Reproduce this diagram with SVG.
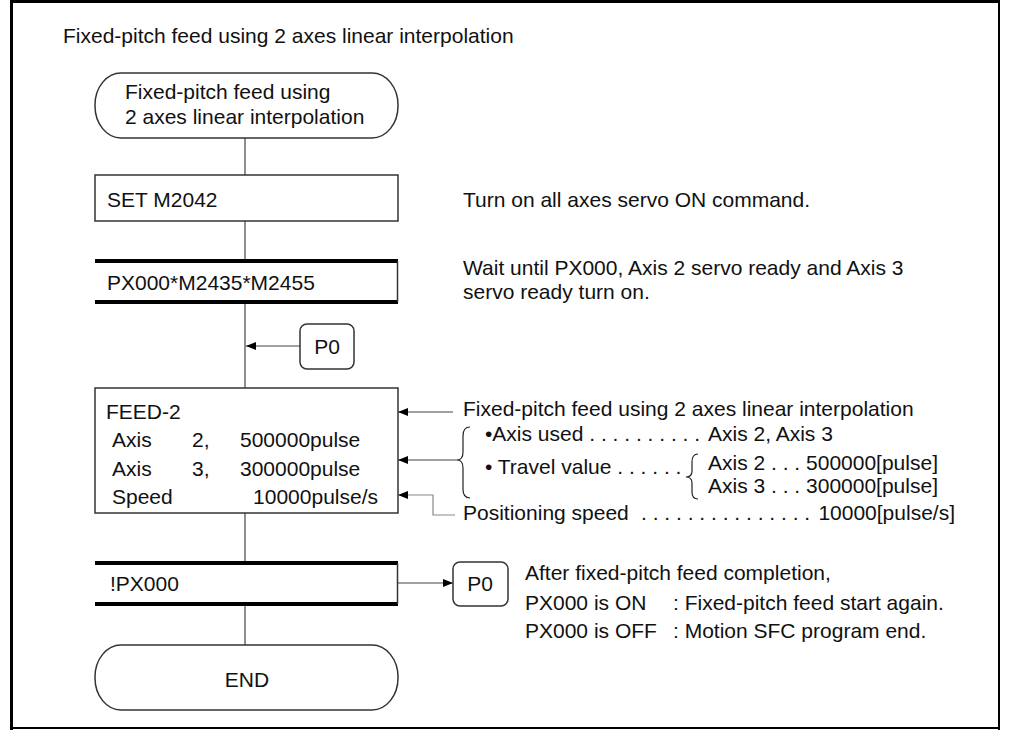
<svg xmlns="http://www.w3.org/2000/svg" width="1009" height="730" viewBox="0 0 1009 730">
<defs>
<style>
text{font-family:"Liberation Sans",Arial,sans-serif;font-size:21px;fill:#111}
.box{fill:#fff;stroke:#333;stroke-width:1.5}
.bar{stroke:#000;stroke-width:4}
.ln{stroke:#444;stroke-width:1.2;fill:none}
.gl{stroke:#888;stroke-width:1.2;fill:none}
.br{stroke:#222;stroke-width:1.2;fill:none}
.mid{text-anchor:middle}
.end{text-anchor:end}
</style>
<marker id="ah" viewBox="0 0 10 8" refX="10" refY="4" markerWidth="10" markerHeight="8" markerUnits="userSpaceOnUse" orient="auto">
<path d="M0,0 L10,4 L0,8 Z" fill="#000"/>
</marker>
</defs>
<rect width="1009" height="730" fill="#fff"/>
<g id="frame">
<line x1="11.5" y1="0" x2="11.5" y2="730" stroke="#000" stroke-width="3"/>
<line x1="10" y1="1.5" x2="1000" y2="1.5" stroke="#000" stroke-width="3"/>
<line x1="999" y1="0" x2="999" y2="730" stroke="#000" stroke-width="2"/>
<line x1="10" y1="728" x2="1000" y2="728" stroke="#000" stroke-width="2"/>
</g>
<text id="title" x="63" y="43">Fixed-pitch feed using 2 axes linear interpolation</text>
<g id="connectors">
<line class="ln" x1="245" y1="138" x2="245" y2="175"/>
<line class="ln" x1="245" y1="221" x2="245" y2="261"/>
<line class="ln" x1="245" y1="302" x2="245" y2="388"/>
<line class="ln" x1="300" y1="346" x2="246" y2="346" marker-end="url(#ah)"/>
<line class="ln" x1="245" y1="513" x2="245" y2="563"/>
<line class="ln" x1="245" y1="604" x2="245" y2="645"/>
<line class="ln" x1="398" y1="583" x2="453" y2="583" marker-end="url(#ah)"/>
<line class="ln" x1="453" y1="412" x2="398" y2="412" marker-end="url(#ah)"/>
<line class="ln" x1="457" y1="460" x2="398" y2="460" marker-end="url(#ah)"/>
<polyline class="gl" points="455,515 433,515 433,495 398,495" marker-end="url(#ah)"/>
</g>
<g id="start">
<rect class="box" x="95" y="73" width="303" height="65" rx="26" ry="32"/>
<text x="125" y="99">Fixed-pitch feed using</text>
<text x="125" y="124">2 axes linear interpolation</text>
</g>
<g id="set">
<rect class="box" x="95" y="175" width="303" height="46"/>
<text x="107" y="207">SET M2042</text>
</g>
<g id="trans1">
<rect x="95" y="261" width="303" height="41" fill="#fff"/>
<line class="bar" x1="95" y1="261" x2="398" y2="261"/>
<line class="bar" x1="95" y1="302" x2="398" y2="302"/>
<line x1="397.5" y1="261" x2="397.5" y2="302" stroke="#333" stroke-width="1.5"/>
<text x="107" y="290">PX000*M2435*M2455</text>
</g>
<g id="p0a">
<rect class="box" x="300" y="324" width="54" height="45" rx="7"/>
<text class="mid" x="327" y="354">P0</text>
</g>
<g id="feed">
<rect class="box" x="95" y="388" width="303" height="125"/>
<text x="106" y="419">FEED-2</text>
<text x="112" y="447">Axis</text>
<text x="192" y="447">2,</text>
<text x="240" y="447">500000pulse</text>
<text x="112" y="476">Axis</text>
<text x="192" y="476">3,</text>
<text x="240" y="476">300000pulse</text>
<text x="112" y="504">Speed</text>
<text class="end" x="378" y="504">10000pulse/s</text>
</g>
<g id="trans2">
<line class="bar" x1="95" y1="563" x2="398" y2="563"/>
<line class="bar" x1="95" y1="604" x2="398" y2="604"/>
<line x1="397.5" y1="563" x2="397.5" y2="604" stroke="#333" stroke-width="1.5"/>
<text x="110" y="591">!PX000</text>
</g>
<g id="p0b">
<rect class="box" x="453" y="562" width="55" height="44" rx="7"/>
<text class="mid" x="480" y="591">P0</text>
</g>
<g id="endnode">
<rect class="box" x="95" y="645" width="303" height="65" rx="26" ry="32"/>
<text class="mid" x="247" y="687">END</text>
</g>
<g id="notes">
<text x="463" y="207">Turn on all axes servo ON command.</text>
<text x="463" y="275">Wait until PX000, Axis 2 servo ready and Axis 3</text>
<text x="463" y="299">servo ready turn on.</text>
<text x="463" y="416">Fixed-pitch feed using 2 axes linear interpolation</text>
<path class="br" d="M470,427 Q463,427 463,436 L463,452 Q463,460 457,460 Q463,460 463,468 L463,489 Q463,498 470,498"/>
<text x="485" y="441">•Axis used . . . . . . . . . .</text>
<text x="708" y="441">Axis 2, Axis 3</text>
<text x="485" y="474">• Travel value . . . . . .</text>
<path class="br" d="M698,454 Q692,454 692,462 L692,471 Q692,477 686,477 Q692,477 692,483 L692,492 Q692,499 698,499"/>
<text x="708" y="470">Axis 2 . . . 500000[pulse]</text>
<text x="708" y="493">Axis 3 . . . 300000[pulse]</text>
<text x="463" y="520">Positioning speed</text>
<text x="641" y="520">. . . . . . . . . . . . . . .</text>
<text class="end" x="955" y="520">10000[pulse/s]</text>
<text x="525" y="580">After fixed-pitch feed completion,</text>
<text x="525" y="610">PX000 is ON</text>
<text x="673" y="610">: Fixed-pitch feed start again.</text>
<text x="525" y="638">PX000 is OFF</text>
<text x="673" y="638">: Motion SFC program end.</text>
</g>
</svg>
